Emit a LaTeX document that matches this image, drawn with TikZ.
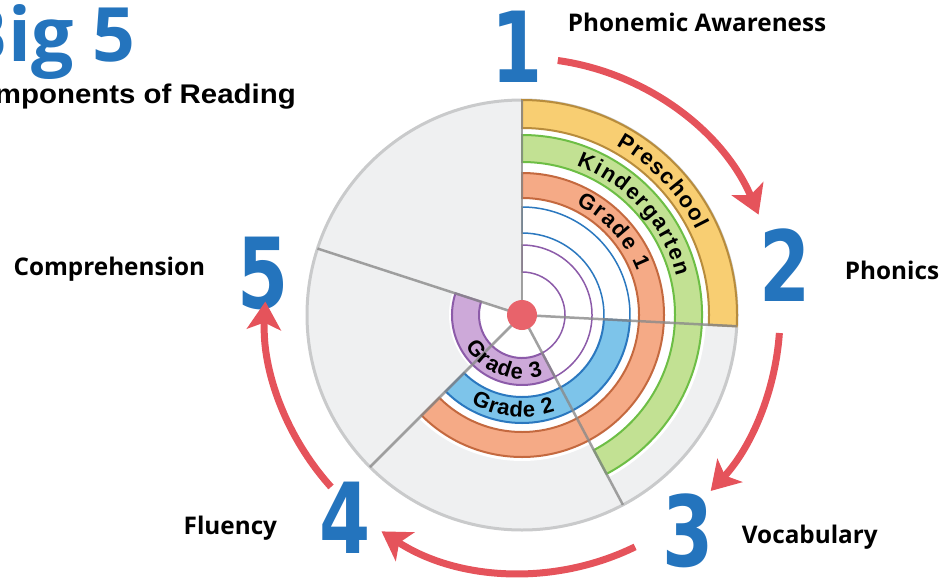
\documentclass[tikz,border=0pt]{standalone}
\usepackage{fontspec}
\setsansfont{Open Sans}
\newfontfamily\bandfont{Liberation Sans}
\newfontfamily\numfont{DejaVu Sans}
\usetikzlibrary{positioning,arrows.meta,decorations.text}

\definecolor{bigblue}{HTML}{2474BD}
\definecolor{arrowred}{HTML}{E5535B}
\definecolor{discgrey}{HTML}{EFF0F1}
\definecolor{rimgrey}{HTML}{C9CACB}
\definecolor{spokegrey}{HTML}{8A8A8A}
\definecolor{preyellow}{HTML}{F8CE72}
\definecolor{preedge}{HTML}{B88C3C}
\definecolor{kindgreen}{HTML}{C2E193}
\definecolor{kindedge}{HTML}{6DBE45}
\definecolor{oneorange}{HTML}{F5AA86}
\definecolor{oneedge}{HTML}{C4693F}
\definecolor{twoblue}{HTML}{7DC4EA}
\definecolor{twoedge}{HTML}{2B78BF}
\definecolor{threepurple}{HTML}{CDA9D9}
\definecolor{threeedge}{HTML}{8C5BA9}
\definecolor{hubred}{HTML}{E8636B}

\newcommand{\bandtext}{\bandfont\bfseries\fontsize{22}{22}\selectfont}
% ring piece: style, start angle, end angle, inner radius, outer radius
\newcommand{\ring}[5]{\draw[#1] (#2:#5) arc[start angle=#2, end angle=#3, radius=#5]
  -- (#3:#4) arc[start angle=#3, end angle=#2, radius=#4] -- cycle;}

\tikzset{
  num/.style={font=\numfont\bfseries\fontsize{98}{98}\selectfont, text=bigblue,
    inner sep=0pt, xscale=0.75},
  lbl/.style={font=\sffamily\bfseries\fontsize{24.3}{24.3}\selectfont, inner sep=0pt},
  flow/.style={draw=arrowred, line width=7pt,
    -{Stealth[length=28pt, width=34pt, inset=7pt]}},
  spoke/.style={draw=spokegrey, line width=2.5pt, opacity=0.8},
  hub/.style={circle, fill=hubred, minimum size=30pt, inner sep=0pt},
  arclabel/.style={decorate, decoration={text along path, text align=fit to path}},
}

\begin{document}
\begin{tikzpicture}[x=1pt, y=1pt]
  \useasboundingbox (0,0) rectangle (944,-578);

  % Title
  \node[font=\sffamily\bfseries\fontsize{75}{75}\selectfont, text=bigblue,
    inner sep=0pt, anchor=base east] (title) at (136,-62) {Big 5};
  \node[font=\bandfont\bfseries\fontsize{27}{27}\selectfont, inner sep=0pt,
    xscale=1.09, anchor=base east] (subtitle) at (296,-103) {Components of Reading};

  \begin{scope}[shift={(522,-315)}]
    % Disc and white ground
    \draw[fill=discgrey, draw=rimgrey, line width=3pt] (0,0) circle (215);
    \foreach \a/\b/\r in {-3/90/187, -62/-3/184, -135/-62/146, 162/225/73}
      \fill[white] (0,0) -- (\a:\r) arc[start angle=\a, end angle=\b, radius=\r] -- cycle;

    % Bands
    \ring{fill=preyellow, draw=preedge, line width=2pt}{-3}{90}{187}{215}
    \ring{fill=kindgreen, draw=kindedge, line width=2pt}{-62}{90}{153}{180}
    \ring{fill=oneorange, draw=oneedge, line width=2pt}{-135}{90}{117}{142}
    \ring{draw=twoedge, line width=1.5pt}{-3}{90}{82}{108}
    \ring{fill=twoblue, draw=twoedge, line width=2pt}{-135}{-3}{82}{108}
    \ring{draw=threeedge, line width=1.5pt}{-62}{90}{43}{70}
    \ring{fill=threepurple, draw=threeedge, line width=2pt}{162}{298}{43}{70}

    % Spokes
    \foreach \a in {90,-3,-62,-135,162}
      \draw[spoke] (0,0) -- (\a:215);
    \node[hub] (hub) at (0,0) {};

    % Band names
    \path[arclabel, decoration={text={|\bandtext|Preschool}}]
      (61:194) arc[start angle=61, end angle=26, radius=194];
    \path[arclabel, decoration={text={|\bandtext|Kindergarten}}]
      (70:159) arc[start angle=70, end angle=14, radius=159];
    \path[arclabel, decoration={text={|\bandtext|Grade 1}}]
      (64:123) arc[start angle=64, end angle=21, radius=123];
    \path[arclabel, decoration={text={|\bandtext|Grade 2}}]
      (240:102) arc[start angle=240, end angle=289, radius=102];
    \path[arclabel, decoration={text={|\bandtext|Grade 3}}]
      (209:64) arc[start angle=209, end angle=289, radius=64];

    % Arrow ends
    \coordinate (s12) at (82:257);
    \coordinate (s23) at (-4:258);
    \coordinate (s34) at (-64:258);
    \coordinate (s45) at (-138:257);
  \end{scope}

  % Define nodes
  \node[num] (n1) at (517,-47)  {1};
  \node[num] (n2) at (785,-265) {2};
  \node[num] (n3) at (688,-531) {3};
  \node[num] (n4) at (345,-518) {4};
  \node[num] (n5) at (263,-273) {5};

  \node[lbl, right=25pt of n1.east, anchor=base west, yshift=15pt]  (aware) {Phonemic Awareness};
  \node[lbl, right=34pt of n2.east, anchor=base west, yshift=-14pt] (phon)  {Phonics};
  \node[lbl, right=28pt of n3.east, anchor=base west, yshift=-12pt] (vocab) {Vocabulary};
  \node[lbl, left=42pt of n4.west, anchor=base east, yshift=-16pt]  (flu)   {Fluency};
  \node[lbl, left=32pt of n5.west, anchor=base east, yshift=-2pt]   (comp)  {Comprehension};

  % Connect the nodes
  \draw[flow] (s12) arc[start angle=82, end angle=23, radius=257];
  \draw[flow] (s23) arc[start angle=-4, end angle=-43, radius=258];
  \draw[flow] (s34) arc[start angle=-64, end angle=-123, radius=258];
  \draw[flow] (s45) arc[start angle=-138, end angle=-183, radius=257];

\end{tikzpicture}
\end{document}
